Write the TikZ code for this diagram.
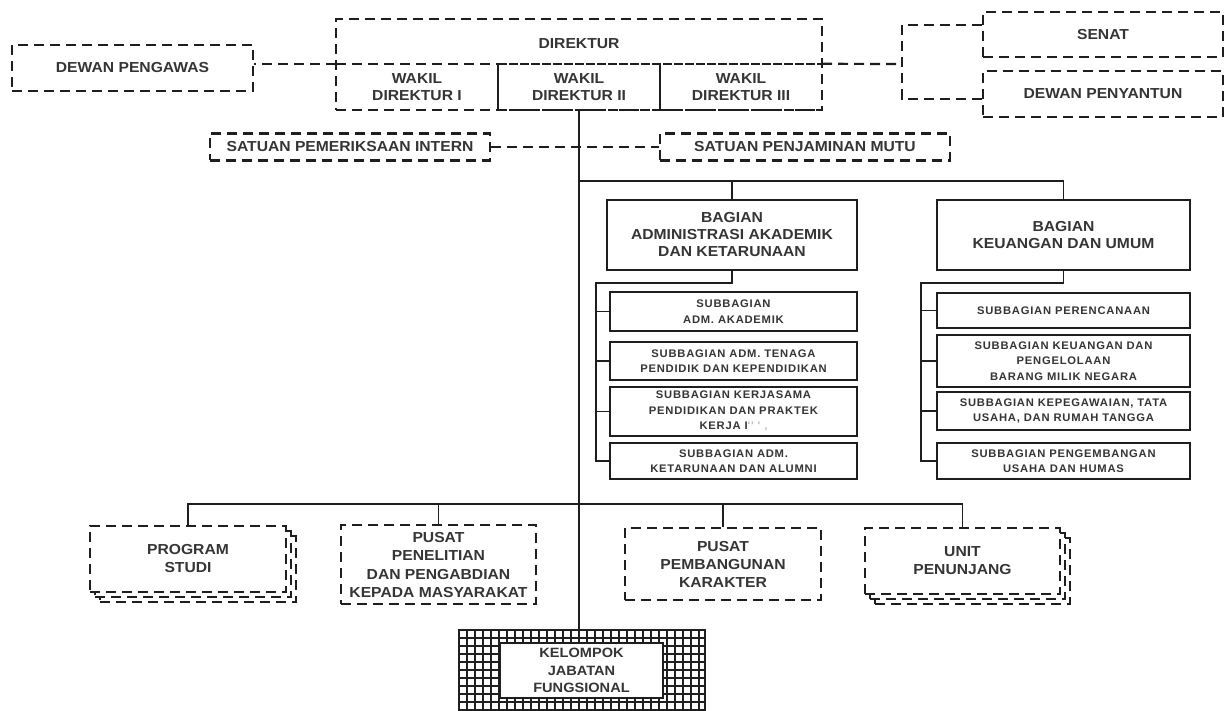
\documentclass[tikz,border=0pt]{standalone}
\usepackage{fontspec}
\setmainfont{Liberation Sans}[FakeStretch=1.08]
\newfontfamily\subfont{Liberation Sans}[FakeStretch=1.02, LetterSpace=7]
\usetikzlibrary{calc}
\definecolor{ink}{HTML}{1E1E1E}
\definecolor{txtc}{HTML}{353535}
\tikzset{
  ln/.style={draw=ink, line width=1.8pt},
  dsh/.style={draw=ink, line width=2.2pt, dash pattern=on 10pt off 6pt},
  dense/.style={draw=ink, line width=2pt, dash pattern=on 9pt off 2pt},
  maintext/.style={text=txtc, font=\bfseries\fontsize{14.5}{17}\selectfont, align=center},
  dbox/.style={dsh, rectangle, inner sep=0pt, maintext, fill=white},
  plain/.style={rectangle, inner sep=0pt, maintext},
  sbox/.style={ln, rectangle, inner sep=0pt, maintext, fill=white},
  subbox/.style={draw=ink, line width=2pt, rectangle, inner sep=0pt, align=center, text=txtc, fill=white,
     font=\subfont\bfseries\fontsize{11}{15.5}\selectfont, minimum width=247pt},
  gridln/.style={draw=ink, line width=1.2pt},
}
\begin{document}
\begin{tikzpicture}[x=1pt,y=-1pt]
\useasboundingbox[fill=white] (0,0) rectangle (1231,711);

% ---- top level
\node[dbox, minimum width=241pt, minimum height=46pt] (dp) at (132.5,68) {DEWAN PENGAWAS};
\node[dsh, rectangle, inner sep=0pt, minimum width=486pt, minimum height=91pt] (dir) at (579,64.5) {};
\node[plain] (dirt) at (579,44) {DIREKTUR};
\node[plain, minimum width=162pt, minimum height=46pt] (w1) at (417,87) {WAKIL\\DIREKTUR I};
\node[plain, minimum width=162pt, minimum height=46pt] (w2) at (579,87) {WAKIL\\DIREKTUR II};
\node[plain, minimum width=162pt, minimum height=46pt] (w3) at (741,87) {WAKIL\\DIREKTUR III};
\draw[dsh] (w1.north west) -- (w1.north east);
\draw[dense] (w2.north west) -- (w3.north east);
\draw[dense] (w2.south west) -- (w3.south east);
\draw[ln] (w1.north east) -- (w1.south east);
\draw[ln] (w2.north east) -- (w2.south east);

\node[dbox, minimum width=240pt, minimum height=45pt] (senat) at (1103,34.5) {SENAT};
\node[dbox, minimum width=240pt, minimum height=46pt] (dpy) at (1103,94) {DEWAN PENYANTUN};
\coordinate (bkt) at (902,25);
\coordinate (bkm) at (902,64);
\coordinate (bkb) at (902,99);

\draw[dsh] (w1.north west) -- (w1.north west -| dp.east);
\draw[dsh] (w3.north east) -- (bkm);
\draw[dsh] (senat.west |- bkt) -- (bkt) -- (bkb) -- (dpy.west |- bkb);

% ---- satuan
\node[dbox, minimum width=280pt, minimum height=27pt] (spi) at (350,147) {SATUAN PEMERIKSAAN INTERN};
\node[dbox, minimum width=290pt, minimum height=27pt] (spm) at (805,147) {SATUAN PENJAMINAN MUTU};
\draw[dsh] (spi.east) -- (spm.west);

% ---- kelompok (grid)
\node[rectangle, inner sep=0pt, minimum width=246pt, minimum height=81pt] (kgrid) at (582,670.5) {};
\foreach \x in {467,475,...,703} \draw[gridln] (\x,630) -- (\x,711);
\foreach \y in {638,646,...,710} \draw[gridln] (459,\y) -- (705,\y);
\draw[ln] (kgrid.south west) -- (kgrid.north west) -- (kgrid.north east) -- (kgrid.south east);
\node[sbox, minimum width=163pt, minimum height=55pt, font=\bfseries\fontsize{13.5}{17.5}\selectfont] (kel) at (581.5,670.5) {KELOMPOK\\JABATAN\\FUNGSIONAL};

% ---- main line
\draw[ln] (w2.south) -- (w2.south |- kgrid.north);
\coordinate (j1) at (579,181);
\coordinate (j2) at (579,504);

% ---- bagian
\node[sbox, minimum width=250pt, minimum height=70pt] (aak) at (732,235) {BAGIAN\\ADMINISTRASI AKADEMIK\\DAN KETARUNAAN};
\node[sbox, minimum width=253pt, minimum height=70pt] (ku) at (1063.5,235) {BAGIAN\\KEUANGAN DAN UMUM};
\draw[ln] (j1) -| (aak.north);
\draw[ln] (j1) -| (ku.north);

\node[subbox, minimum height=39pt] (a1) at (733.5,311.5) {SUBBAGIAN\\ADM. AKADEMIK};
\node[subbox, minimum height=38pt] (a2) at (733.5,361) {SUBBAGIAN ADM. TENAGA\\PENDIDIK DAN KEPENDIDIKAN};
\node[subbox, minimum height=49pt] (a3) at (733.5,411.5) {SUBBAGIAN KERJASAMA\\PENDIDIKAN DAN PRAKTEK\\KERJA I\textcolor{black!25}{'' ' ,}};
\node[subbox, minimum height=36pt] (a4) at (733.5,461) {SUBBAGIAN ADM.\\KETARUNAAN DAN ALUMNI};

\node[subbox, minimum width=253pt, minimum height=35pt] (k1) at (1063.5,310.5) {SUBBAGIAN PERENCANAAN};
\node[subbox, minimum width=253pt, minimum height=52pt] (k2) at (1063.5,361) {SUBBAGIAN KEUANGAN DAN\\PENGELOLAAN\\BARANG MILIK NEGARA};
\node[subbox, minimum width=253pt, minimum height=38pt] (k3) at (1063.5,411) {SUBBAGIAN KEPEGAWAIAN, TATA\\USAHA, DAN RUMAH TANGGA};
\node[subbox, minimum width=253pt, minimum height=36pt] (k4) at (1063.5,461) {SUBBAGIAN PENGEMBANGAN\\USAHA DAN HUMAS};

\coordinate (ra) at (596,283);
\coordinate (rk) at (921,283);
\draw[ln] (aak.south) |- (ra) |- (a4.west);
\foreach \n in {a1,a2,a3} \draw[ln] (\n.west -| ra) -- (\n.west);
\draw[ln] (ku.south) |- (rk) |- (k4.west);
\foreach \n in {k1,k2,k3} \draw[ln] (\n.west -| rk) -- (\n.west);

% ---- bottom row
\node[dbox, minimum width=196pt, minimum height=66pt] (ps3) at (198,569) {};
\node[dbox, minimum width=196pt, minimum height=66pt] (ps2) at (193,564) {};
\node[dbox, minimum width=196pt, minimum height=66pt, font=\bfseries\fontsize{14.5}{18}\selectfont] (ps) at (188,559) {PROGRAM\\STUDI};
\node[dbox, minimum width=195pt, minimum height=79pt] (pp) at (438.5,564.5) {};
\node[plain, font=\bfseries\fontsize{14.5}{18.5}\selectfont] (ppt) at (438.5,565) {PUSAT\\PENELITIAN\\DAN PENGABDIAN\\KEPADA MASYARAKAT};
\node[dbox, minimum width=196pt, minimum height=72pt, font=\bfseries\fontsize{14.5}{18}\selectfont] (pk) at (723,564) {PUSAT\\PEMBANGUNAN\\KARAKTER};
\node[dbox, minimum width=195pt, minimum height=66pt] (up3) at (972.5,571) {};
\node[dbox, minimum width=195pt, minimum height=66pt] (up2) at (967.5,566) {};
\node[dbox, minimum width=195pt, minimum height=66pt, font=\bfseries\fontsize{14.5}{18}\selectfont] (up) at (962.5,561) {UNIT\\PENUNJANG};

\draw[ln] (j2) -| (ps.north);
\draw[ln] (j2) -| (pp.north);
\draw[ln] (j2) -| (pk.north);
\draw[ln] (j2) -| (up.north);
\end{tikzpicture}
\end{document}
